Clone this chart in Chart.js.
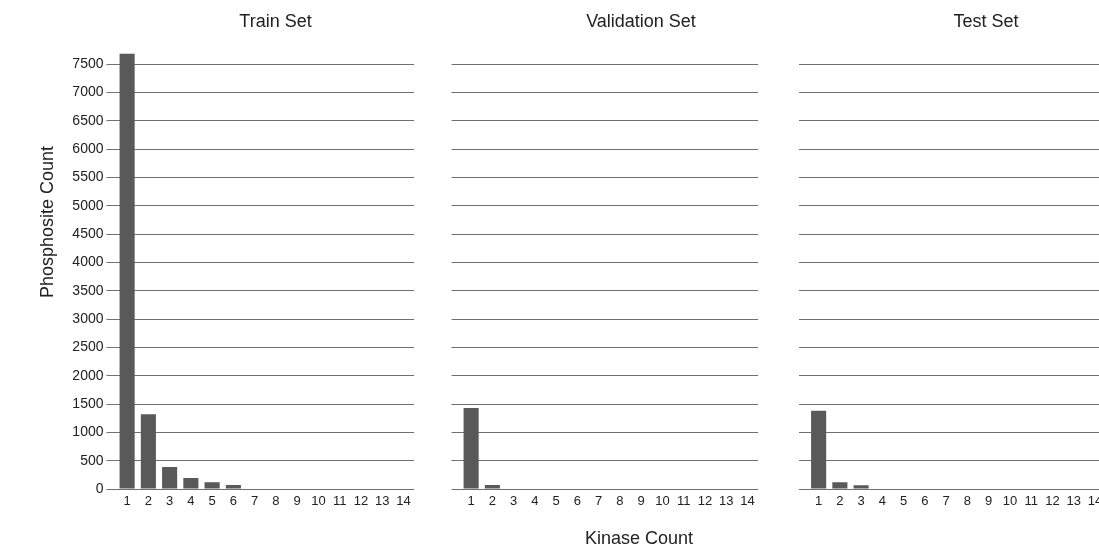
<!DOCTYPE html>
<html>
<head>
<meta charset="utf-8">
<script src="https://cdn.jsdelivr.net/npm/chart.js@4.4.0/dist/chart.umd.min.js"></script>
<style>
html,body{margin:0;padding:0;background:#fff;overflow:hidden;width:1099px;height:545px;}
#wrap{position:relative;width:1099px;height:545px;overflow:hidden;}
.pane{position:absolute;top:0;height:545px;}
</style>
</head>
<body>
<div id="wrap">
  <div class="pane" style="left:0px;width:551px"><canvas id="c1"></canvas></div>
  <div class="pane" style="left:440px;width:402px"><canvas id="c2"></canvas></div>
  <div class="pane" style="left:790px;width:392px"><canvas id="c3"></canvas></div>
</div>
<script>
// ---- data ----
const kinaseCounts = ['1','2','3','4','5','6','7','8','9','10','11','12','13','14'];
const trainCounts      = [7680, 1320, 390, 195, 120, 70, 0, 0, 0, 0, 0, 0, 0, 0];
const validationCounts = [1430, 70, 0, 0, 0, 0, 0, 0, 0, 0, 0, 0, 0, 0];
const testCounts       = [1380, 120, 65, 0, 0, 0, 0, 0, 0, 0, 0, 0, 0, 0];
const yTickValues = [0,500,1000,1500,2000,2500,3000,3500,4000,4500,5000,5500,6000,6500,7000,7500];
const panelTitles = ['Train Set', 'Validation Set', 'Test Set'];
const yAxisTitle = 'Phosphosite Count';
const xAxisTitle = 'Kinase Count';

const FONT = "'Liberation Sans', Arial, Helvetica, sans-serif";
Chart.defaults.font.family = FONT;

const axisTextPlugin = {
  id: 'axisText',
  afterDraw(chart, args, opts) {
    const ctx = chart.ctx;
    (opts.items || []).forEach(it => {
      ctx.save();
      ctx.font = '18px ' + FONT;
      ctx.fillStyle = '#222';
      ctx.textAlign = 'center';
      ctx.textBaseline = 'alphabetic';
      ctx.translate(it.x, it.y);
      if (it.rotate) ctx.rotate(it.rotate);
      ctx.fillText(it.text, 0, 0);
      ctx.restore();
    });
  }
};

function makeChart(id, values, title, cfg) {
  return new Chart(document.getElementById(id), {
    type: 'bar',
    data: {
      labels: kinaseCounts,
      datasets: [{
        data: values,
        backgroundColor: '#595959',
        borderWidth: 0,
        categoryPercentage: 1,
        barPercentage: 0.71
      }]
    },
    plugins: [axisTextPlugin],
    options: {
      responsive: true,
      maintainAspectRatio: false,
      animation: false,
      layout: { padding: { left: 0, right: 0, top: 0, bottom: 30.4 } },
      plugins: {
        legend: { display: false },
        tooltip: { enabled: false },
        title: {
          display: true,
          text: title,
          color: '#222',
          font: { size: 18, weight: 'normal' },
          padding: { top: 11.5, bottom: 19.6 }
        },
        axisText: { items: cfg.texts || [] }
      },
      scales: {
        x: {
          type: 'category',
          offset: true,
          grid: { display: false, drawTicks: false },
          border: { display: false },
          ticks: { color: '#222', font: { size: 13 }, padding: 5, maxRotation: 0, autoSkip: false }
        },
        y: {
          min: 0,
          max: 7700,
          position: 'left',
          afterBuildTicks: s => { s.ticks = yTickValues.map(v => ({ value: v })); },
          afterFit: s => { s.width = cfg.yWidth; },
          grid: { color: '#707070', lineWidth: 1, drawTicks: true, tickLength: cfg.tickLen },
          border: { display: false },
          ticks: { display: cfg.showY, padding: 3, color: '#222', font: { size: 14 },
                   callback: v => String(v) }
        },
        yr: {
          type: 'linear',
          position: 'right',
          display: true,
          grid: { display: false, drawTicks: false },
          border: { display: false },
          ticks: { display: false },
          afterFit: s => { s.width = cfg.padR; }
        }
      }
    }
  });
}

makeChart('c1', trainCounts, panelTitles[0], {
  yWidth: 116.5, padR: 137, tickLen: 10, showY: true,
  texts: [{ text: yAxisTitle, x: 52.5, y: 222, rotate: -Math.PI / 2 }]
});
makeChart('c2', validationCounts, panelTitles[1], {
  yWidth: 20.5, padR: 84, tickLen: 9, showY: false,
  texts: [{ text: xAxisTitle, x: 199, y: 544 }]
});
makeChart('c3', testCounts, panelTitles[2], {
  yWidth: 18, padR: 76.5, tickLen: 9, showY: false
});
</script>
</body>
</html>
